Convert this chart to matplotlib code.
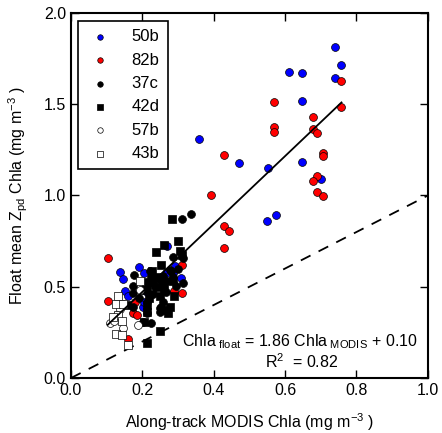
import numpy as np
import matplotlib.pyplot as plt

plt.rcParams['font.family'] = ['Liberation Sans', 'DejaVu Sans']
plt.rcParams['mathtext.fontset'] = 'custom'
plt.rcParams['mathtext.rm'] = 'Liberation Sans'
plt.rcParams['mathtext.it'] = 'Liberation Sans:italic'

# float 50b
x_50b = [0.739, 0.758, 0.611, 0.646, 0.739, 0.646, 0.646, 0.551, 0.700, 0.470,
         0.359, 0.550, 0.574, 0.270, 0.291, 0.191, 0.137, 0.145, 0.204, 0.266,
         0.285, 0.307, 0.151, 0.161, 0.212, 0.201, 0.205]
y_50b = [1.815, 1.715, 1.677, 1.673, 1.644, 1.516, 1.185, 1.149, 1.089, 1.178,
         1.311, 0.862, 0.895, 0.723, 0.614, 0.610, 0.583, 0.541, 0.573, 0.573,
         0.577, 0.546, 0.477, 0.450, 0.473, 0.391, 0.415]

# float 82b
x_82b = [0.758, 0.568, 0.758, 0.678, 0.568, 0.568, 0.678, 0.689, 0.705, 0.705,
         0.689, 0.678, 0.689, 0.705, 0.428, 0.393, 0.428, 0.443, 0.428, 0.103,
         0.310, 0.289, 0.310, 0.103, 0.147, 0.179, 0.175, 0.184, 0.161]
y_82b = [1.629, 1.511, 1.483, 1.428, 1.374, 1.346, 1.364, 1.342, 1.231, 1.216,
         1.108, 1.079, 1.019, 0.997, 1.222, 1.001, 0.833, 0.807, 0.714, 0.656,
         0.619, 0.477, 0.468, 0.422, 0.405, 0.418, 0.354, 0.345, 0.212]

# float 37c
x_37c = [0.312, 0.336, 0.285, 0.313, 0.277, 0.301, 0.259, 0.222, 0.223, 0.176,
         0.280, 0.287, 0.313, 0.259, 0.175, 0.249, 0.175, 0.257, 0.212, 0.173,
         0.251, 0.249, 0.249, 0.212, 0.224, 0.203, 0.235, 0.270, 0.295, 0.230,
         0.265, 0.200, 0.190]
y_37c = [0.871, 0.899, 0.661, 0.656, 0.592, 0.596, 0.559, 0.588, 0.555, 0.564,
         0.588, 0.555, 0.518, 0.510, 0.502, 0.537, 0.464, 0.418, 0.418, 0.391,
         0.391, 0.382, 0.363, 0.354, 0.303, 0.308, 0.500, 0.530, 0.505, 0.460,
         0.470, 0.480, 0.440]

# float 42d
x_42d = [0.284, 0.301, 0.261, 0.238, 0.305, 0.310, 0.251, 0.242, 0.226, 0.210,
         0.214, 0.231, 0.242, 0.212, 0.277, 0.268, 0.273, 0.212, 0.212, 0.156,
         0.249, 0.212, 0.204, 0.260, 0.285, 0.250, 0.220, 0.290]
y_42d = [0.870, 0.752, 0.729, 0.692, 0.697, 0.674, 0.619, 0.555, 0.588, 0.518,
         0.528, 0.528, 0.500, 0.482, 0.391, 0.373, 0.354, 0.363, 0.400, 0.400,
         0.259, 0.190, 0.308, 0.490, 0.530, 0.450, 0.440, 0.450]

# float 57b
x_57b = [0.193, 0.137, 0.128, 0.109, 0.147, 0.189, 0.120]
y_57b = [0.482, 0.376, 0.345, 0.300, 0.272, 0.290, 0.310]

# float 43b
x_43b = [0.194, 0.131, 0.125, 0.145, 0.133, 0.119, 0.142, 0.125, 0.144, 0.161]
y_43b = [0.533, 0.449, 0.405, 0.405, 0.345, 0.336, 0.314, 0.241, 0.236, 0.181]

slope, intercept, r2 = 1.86, 0.10, 0.82
fit_x = [0.103, 0.758]

fig = plt.figure(figsize=(4.42, 4.33), dpi=100)
ax = fig.add_axes([0.1606, 0.127, 0.8074, 0.843])

ms = 32
ax.scatter(x_50b, y_50b, s=ms, c='#0000ff', edgecolors='k', linewidths=0.5, label='50b', zorder=3)
ax.scatter(x_82b, y_82b, s=ms, c='#ff0000', edgecolors='k', linewidths=0.5, label='82b', zorder=3)
ax.scatter(x_37c, y_37c, s=ms, c='k', edgecolors='k', linewidths=0.5, label='37c', zorder=3)
ax.scatter(x_42d, y_42d, s=ms, c='k', marker='s', edgecolors='k', linewidths=0.5, label='42d', zorder=3)
ax.scatter(x_57b, y_57b, s=ms, c='w', edgecolors='k', linewidths=0.5, label='57b', zorder=3)
ax.scatter(x_43b, y_43b, s=ms, c='w', marker='s', edgecolors='k', linewidths=0.5, label='43b', zorder=3)

fx = np.array(fit_x)
ax.plot(fx, slope * fx + intercept, color='k', lw=1.3, zorder=4)
ax.plot([0, 1], [0, 1], color='k', lw=1.3, ls=(0, (6, 5)), zorder=2)

ax.text(0.64, 0.197, r'Chla$_{\mathregular{\ float}}$ = 1.86 Chla$_{\mathregular{\ MODIS}}$ + 0.10',
        ha='center', va='center', fontsize=11.5)
ax.text(0.645, 0.088, r'R$^{\mathregular{2}}$  = 0.82', ha='center', va='center', fontsize=11.5)

ax.set_xlim(0, 1)
ax.set_ylim(0, 2)
ax.set_xticks(np.arange(0, 1.01, 0.2))
ax.set_yticks(np.arange(0, 2.01, 0.5))
ax.xaxis.set_major_formatter(plt.FormatStrFormatter('%.1f'))
ax.yaxis.set_major_formatter(plt.FormatStrFormatter('%.1f'))
ax.tick_params(direction='in', top=True, right=True, length=6, width=1, labelsize=11.5)
for s in ax.spines.values():
    s.set_linewidth(1.5)

ax.set_xlabel(r'Along-track MODIS Chla (mg m$^{\mathregular{-3}}$ )', fontsize=11.5, labelpad=10)
ax.set_ylabel(r'Float mean Z$_{\mathregular{pd}}$ Chla (mg m$^{\mathregular{-3}}$ )', fontsize=11.5, labelpad=10)

leg = ax.legend(loc='upper left', fontsize=12, markerscale=0.7, fancybox=False,
                edgecolor='k', framealpha=1, labelspacing=0.5, handletextpad=1.1,
                handlelength=1.6, borderpad=0.5, borderaxespad=0,
                bbox_to_anchor=(0.0196, 0.978))
leg.get_frame().set_linewidth(1.2)

fig.savefig('out.png', dpi=100)
